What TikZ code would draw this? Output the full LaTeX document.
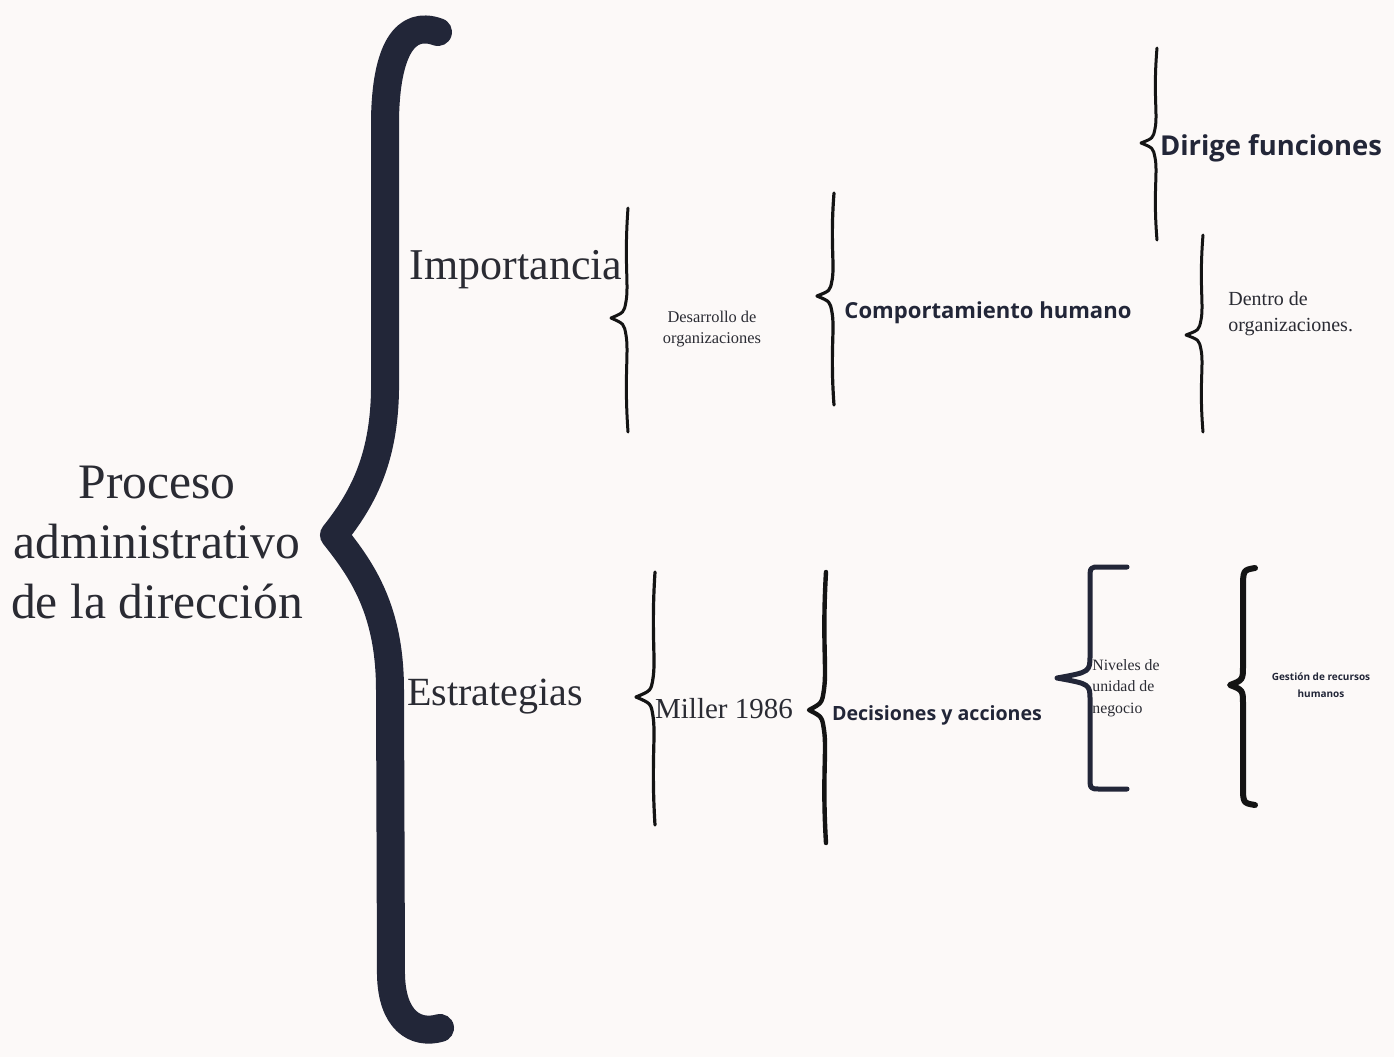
\documentclass[tikz,border=0pt]{standalone}
\usepackage{fontspec}
\setmainfont{Liberation Serif}
\newfontfamily\osans{Open Sans}
\usetikzlibrary{calc}
\definecolor{bg}{HTML}{FCF9F8}
\definecolor{navy}{HTML}{222638}
\definecolor{ink}{HTML}{2A2B33}
\definecolor{blk}{HTML}{141414}
\tikzset{
  serif/.style={text=ink, inner sep=0pt},
  sansb/.style={text=navy, inner sep=0pt, font=\osans\bfseries},
  bracestroke/.style={draw=blk, line cap=round, line join=round},
}
\newcommand\thinbrace[6]{% x, ytop, tipx, tipy, ybot, linewidth
  \draw[bracestroke, line width=#6]
    (#1,#2) .. controls ({#1-4},{#2+0.5*(#4-#2)}) and ({#1+1},{#4-0.3*(#4-#2)}) ..
    ({#1-2},{#4-0.15*(#4-#2)}) .. controls ({#1-4},{#4-0.05*(#4-#2)}) .. (#3,#4)
    .. controls ({#1-4},{#4+0.05*(#5-#4)}) .. ({#1-2},{#4+0.15*(#5-#4)})
    .. controls ({#1+1},{#4+0.3*(#5-#4)}) and ({#1-4},{#5-0.5*(#5-#4)}) .. (#1,#5);}
\begin{document}
\begin{tikzpicture}[x=0.5pt, y=-0.5pt]
\useasboundingbox (0,0) rectangle (1394,1057);
\fill[bg] (0,0) rectangle (1394,1057);

% big brace
\draw[navy, line width=14pt, line cap=round, line join=round]
  (438,32) .. controls (405,20) and (386,50) .. (385,120)
  -- (385,390) .. controls (384,460) and (362,500) .. (334,535)
  .. controls (362,570) and (390,610) .. (390,690)
  -- (391,975) .. controls (392,1020) and (415,1035) .. (440,1028);

% texts
\node[serif, align=center, font=\fontsize{24.8}{30}\selectfont] (proc) at (157,542)
  {Proceso\\administrativo\\de la dirección};
\node[serif, font=\fontsize{22}{26}\selectfont] (imp) at (516,270) {Importancia};
\node[serif, font=\fontsize{20}{24}\selectfont] (est) at (495,697) {Estrategias};
\node[serif, align=center, font=\fontsize{8.2}{10.5}\selectfont] (des) at (712,329)
  {Desarrollo de\\organizaciones};
\node[sansb] (comp) at (988,313) {\resizebox{143.5pt}{!}{Comportamiento humano}};
\node[sansb] (dir) at (1271,148) {\resizebox{111pt}{!}{Dirige funciones}};
\node[serif, align=left, anchor=west, font=\fontsize{10}{13}\selectfont] (den) at (1228,314)
  {Dentro de\\organizaciones.};
\node[serif, font=\fontsize{14.5}{17}\selectfont] (mil) at (724,709) {Miller 1986};
\node[sansb] (dec) at (937,715) {\resizebox{105pt}{!}{Decisiones y acciones}};
\node[serif, align=left, anchor=west, font=\fontsize{7.9}{10.75}\selectfont] (niv) at (1092,688)
  {Niveles de\\unidad de\\negocio};
\node[sansb, align=center, font=\osans\bfseries\fontsize{5}{8.5}\selectfont] (ges) at (1321,685)
  {Gestión de recursos\\humanos};

% small braces
\thinbrace{628}{208}{611}{318}{432}{1.5pt}
\thinbrace{834}{193}{817}{296}{405}{1.6pt}
\thinbrace{1157}{48}{1141}{143}{240}{1.5pt}
\thinbrace{1203}{235}{1186}{335}{432}{1.5pt}
\thinbrace{655}{572}{636}{697}{825}{1.6pt}
\thinbrace{826}{572}{809}{710}{843}{2.2pt}

\draw[navy, line width=2.5pt, line cap=round, line join=round]
  (1127,567) -- (1100,567) .. controls (1090,567) .. (1090,580) -- (1090,655)
  .. controls (1090,672) .. (1057,678) .. controls (1090,684) .. (1090,700)
  -- (1090,776) .. controls (1090,789) .. (1100,789) -- (1127,789);
\draw[blk, line width=3pt, line cap=round, line join=round]
  (1255,568) .. controls (1243,570) .. (1243,590) -- (1243,665)
  .. controls (1243,680) .. (1230,685) .. controls (1243,690) .. (1243,705)
  -- (1243,785) .. controls (1243,803) .. (1255,805);
\end{tikzpicture}
\end{document}
